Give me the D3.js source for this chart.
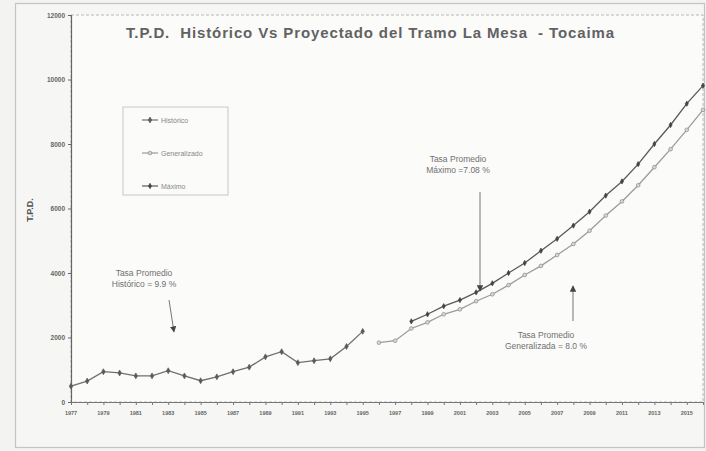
<!DOCTYPE html>
<html><head><meta charset="utf-8">
<script src="https://cdn.jsdelivr.net/npm/d3@7"></script>
<style>
html,body{margin:0;padding:0;background:#f3f3f1;}
svg{display:block;font-family:"Liberation Sans",Arial,sans-serif;}
</style></head>
<body><svg id="c" width="706" height="451"></svg>
<script>
const histYears = [1977,1978,1979,1980,1981,1982,1983,1984,1985,1986,1987,1988,1989,1990,1991,1992,1993,1994,1995];
const historico = [490,650,940,900,810,810,970,810,660,780,940,1080,1400,1560,1220,1280,1340,1720,2190];
const genYears = [1996,1997,1998,1999,2000,2001,2002,2003,2004,2005,2006,2007,2008,2009,2010,2011,2012,2013,2014,2015,2016];
const generalizado = [1840,1900,2280,2470,2720,2875,3125,3340,3625,3940,4220,4560,4900,5310,5780,6220,6720,7280,7840,8440,9060];
const maxYears = [1998,1999,2000,2001,2002,2003,2004,2005,2006,2007,2008,2009,2010,2011,2012,2013,2014,2015,2016];
const maximo = [2500,2720,2970,3160,3400,3680,4000,4310,4690,5060,5470,5900,6400,6840,7375,8000,8590,9250,9810];
const yTicks = [0,2000,4000,6000,8000,10000,12000];
const xTickLabels = [1977,1979,1981,1983,1985,1987,1989,1991,1993,1995,1997,1999,2001,2003,2005,2007,2009,2011,2013,2015];
const seriesNames = ["Histórico","Generalizado","Máximo"];
const title = "T.P.D.  Histórico Vs Proyectado del Tramo La Mesa  - Tocaima";

const svg = d3.select("#c");
const L=71, R=703, T=15, B=402;
const x = d3.scaleLinear().domain([1977,2016]).range([L,R]);
const y = d3.scaleLinear().domain([0,12000]).range([B,T]);

// outer frame
svg.append("rect").attr("x",15.5).attr("y",3.5).attr("width",689).attr("height",444)
  .attr("fill","#f6f6f4").attr("stroke","#c4c4c2").attr("stroke-width",1.2);
// plot area
svg.append("rect").attr("x",L).attr("y",T).attr("width",R-L).attr("height",B-T)
  .attr("fill","#fbfbfa").attr("stroke","#a8a8a8").attr("stroke-dasharray","3,2").attr("stroke-width",0.8);

// y axis
const ya = svg.append("g").attr("transform",`translate(${L},0)`)
  .call(d3.axisLeft(y).tickValues(yTicks).tickSize(3).tickFormat(d3.format("d")));
ya.select(".domain").attr("stroke","#666").attr("stroke-width",1.2);
ya.selectAll(".tick line").attr("stroke","#666");
ya.selectAll("text").attr("fill","#666").attr("font-size",6.5).attr("font-weight","bold").attr("x",-6);

// x axis
const xa = svg.append("g").attr("transform",`translate(0,${B})`)
  .call(d3.axisBottom(x).tickValues(d3.range(1977,2017)).tickSize(3).tickFormat(""));
xa.select(".domain").attr("stroke","#777").attr("stroke-width",1);
xa.selectAll(".tick line").attr("stroke","#777");
svg.append("g").selectAll("text").data(xTickLabels).join("text")
  .attr("x",d=>x(d)).attr("y",B+13).attr("text-anchor","middle")
  .attr("font-size",5.5).attr("font-weight","bold").attr("fill","#666").text(d=>d);

// y title
svg.append("text").attr("transform","translate(33,210) rotate(-90)").attr("text-anchor","middle")
  .attr("font-size",9).attr("font-weight","bold").attr("fill","#555").text("T.P.D.");

// title
svg.append("text").attr("x",370).attr("y",38).attr("text-anchor","middle")
  .attr("font-size",15).attr("font-weight","bold").attr("fill","#626262")
  .attr("textLength",488).attr("lengthAdjust","spacing")
  .attr("xml:space","preserve").style("white-space","pre").text(title);

const line = d3.line().x(d=>x(d[0])).y(d=>y(d[1]));
function drawSeries(years, vals, stroke, markerFill, markerStroke, shape, size){
  const pts = years.map((yr,i)=>[yr,vals[i]]);
  svg.append("path").datum(pts).attr("d",line).attr("fill","none").attr("stroke",stroke).attr("stroke-width",1.3);
  svg.append("g").selectAll("path").data(pts).join("path")
    .attr("transform",d=>`translate(${x(d[0])},${y(d[1])})`)
    .attr("d",d3.symbol().type(shape).size(size))
    .attr("fill",markerFill).attr("stroke",markerStroke).attr("stroke-width",0.7);
}
drawSeries(histYears, historico, "#707070", "#5a5a5a", "#5a5a5a", d3.symbolDiamond, 10);
drawSeries(genYears, generalizado, "#9c9c9c", "#d6d6d6", "#8c8c8c", d3.symbolCircle, 11);
drawSeries(maxYears, maximo, "#5a5a5a", "#444", "#444", d3.symbolDiamond, 8);

// legend
const lg = svg.append("g");
lg.append("rect").attr("x",123).attr("y",107).attr("width",105).attr("height",88)
  .attr("fill","#fbfbfa").attr("stroke","#bcbcbc").attr("stroke-width",0.8);
const legStyles = [
  {stroke:"#707070",fill:"#5a5a5a",ms:"#5a5a5a",shape:d3.symbolDiamond,size:10},
  {stroke:"#9c9c9c",fill:"#d6d6d6",ms:"#8c8c8c",shape:d3.symbolCircle,size:11},
  {stroke:"#5a5a5a",fill:"#444",ms:"#444",shape:d3.symbolDiamond,size:8}
];
seriesNames.forEach((n,i)=>{
  const yy = 120 + i*33;
  const s = legStyles[i];
  lg.append("line").attr("x1",142).attr("x2",158).attr("y1",yy).attr("y2",yy).attr("stroke",s.stroke).attr("stroke-width",1.2);
  lg.append("path").attr("transform",`translate(150,${yy})`).attr("d",d3.symbol().type(s.shape).size(s.size)())
    .attr("fill",s.fill).attr("stroke",s.ms).attr("stroke-width",0.7);
  lg.append("text").attr("x",161).attr("y",yy+2.5).attr("font-size",7).attr("fill","#888").text(n);
});

// annotations
svg.append("defs").append("marker").attr("id","ah").attr("viewBox","0 0 10 10").attr("refX",9).attr("refY",5)
  .attr("markerWidth",7).attr("markerHeight",7).attr("orient","auto-start-reverse")
  .append("path").attr("d","M0,0L10,5L0,10z").attr("fill","#444");
function note(cx, cy, l1, l2){
  const t = svg.append("text").attr("text-anchor","middle").attr("font-size",8.5).attr("fill","#707070");
  t.append("tspan").attr("x",cx).attr("y",cy).text(l1);
  t.append("tspan").attr("x",cx).attr("y",cy+11).text(l2);
}
function arrow(x1,y1,x2,y2){
  svg.append("line").attr("x1",x1).attr("y1",y1).attr("x2",x2).attr("y2",y2)
    .attr("stroke","#666").attr("stroke-width",0.9).attr("marker-end","url(#ah)");
}
note(144,276,"Tasa Promedio","Histórico = 9.9 %");
arrow(169,300,174,332);
note(458,162,"Tasa Promedio","Máximo =7.08 %");
arrow(480,192,480,291);
note(546,338,"Tasa Promedio","Generalizada = 8.0 %");
arrow(573,321,573,286);
</script></body></html>
